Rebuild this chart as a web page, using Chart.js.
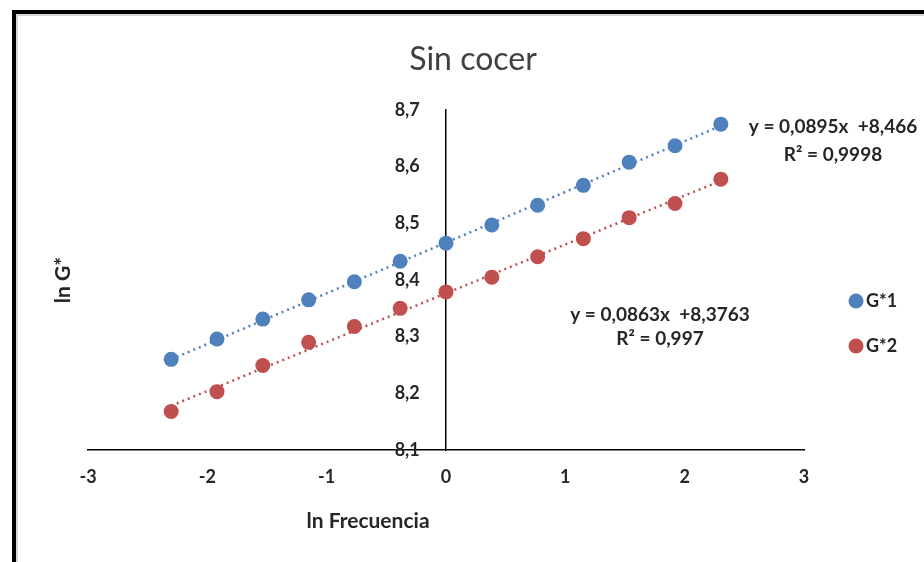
<!DOCTYPE html>
<html lang="es">
<head>
    <meta charset="UTF-8">
    <title>Sin cocer</title>
    <script src="https://cdn.jsdelivr.net/npm/chart.js@4"></script>
    <style>
        html, body { margin: 0; padding: 0; background: #fff; }
        #wrap { position: relative; width: 924px; height: 562px; overflow: hidden; }
        #frame {
            position: absolute; left: 12px; top: 10px; width: 1000px; height: 700px;
            border-top: 4px solid #000; border-left: 4px solid #000;
            box-shadow: inset 2px 2px 0 #d4d4d4; pointer-events: none;
        }
    </style>
</head>
<body>
    <div id="wrap">
        <canvas id="grafico" width="924" height="562"></canvas>
        <div id="frame"></div>
    </div>

    <script>
        // datos
        const lnFrecuencia = [-2.303, -1.919, -1.535, -1.151, -0.768, -0.384, 0, 0.384, 0.768, 1.151, 1.535, 1.919, 2.303];
        const lnG1 = [8.260, 8.296, 8.331, 8.365, 8.397, 8.433, 8.465, 8.497, 8.532, 8.567, 8.608, 8.637, 8.675];
        const lnG2 = [8.168, 8.203, 8.249, 8.290, 8.318, 8.350, 8.379, 8.405, 8.441, 8.473, 8.510, 8.535, 8.578];

        // extremos de las lineas de tendencia
        const tendenciaX = [-2.303, 2.303];
        const tendencia1 = [8.260, 8.672];
        const tendencia2 = [8.178, 8.575];

        const ticksX = [-3, -2, -1, 0, 1, 2, 3];
        const ticksY = [8.1, 8.2, 8.3, 8.4, 8.5, 8.6, 8.7];

        const series = ['G*1', 'G*2'];
        const colores = ['#4F81BD', '#C0504D'];
        const ecuaciones = [
            ['y = 0,0895x  +8,466', 'R\u00B2 = 0,9998'],
            ['y = 0,0863x  +8,3763', 'R\u00B2 = 0,997']
        ];

        const puntos = (xs, ys) => xs.map((x, i) => ({ x: x, y: ys[i] }));
        const fuente = 'Lato, "DejaVu Sans", sans-serif';

        const anotaciones = {
            id: 'anotaciones',
            afterDraw(chart) {
                const c = chart.ctx;
                c.save();
                c.textBaseline = 'middle';

                c.fillStyle = '#404040';
                c.textAlign = 'center';
                c.font = '32px ' + fuente;
                c.fillText('Sin cocer', 473, 60);

                c.fillStyle = '#262626';
                c.font = 'bold 21px ' + fuente;
                c.fillText('ln Frecuencia', 368, 521);

                c.save();
                c.translate(63, 280);
                c.rotate(-Math.PI / 2);
                c.fillText('ln G*', 0, 0);
                c.restore();

                c.font = 'bold 19px ' + fuente;
                c.fillText(ecuaciones[0][0], 833, 127);
                c.fillText(ecuaciones[0][1], 833, 155);
                c.fillText(ecuaciones[1][0], 660, 315);
                c.fillText(ecuaciones[1][1], 660, 339);

                // leyenda
                c.textAlign = 'left';
                c.font = 'bold 18px ' + fuente;
                [301, 346].forEach((y, i) => {
                    c.fillStyle = colores[i];
                    c.beginPath();
                    c.arc(856, y, 7.5, 0, Math.PI * 2);
                    c.fill();
                    c.fillStyle = '#262626';
                    c.fillText(series[i], 866, y);
                });
                c.restore();
            }
        };

        new Chart(document.getElementById('grafico'), {
            type: 'scatter',
            data: {
                datasets: [
                    {
                        label: series[0],
                        data: puntos(lnFrecuencia, lnG1),
                        backgroundColor: colores[0],
                        borderColor: colores[0],
                        pointRadius: 7.5,
                        pointBorderWidth: 0,
                        order: 1
                    },
                    {
                        label: series[1],
                        data: puntos(lnFrecuencia, lnG2),
                        backgroundColor: colores[1],
                        borderColor: colores[1],
                        pointRadius: 7.5,
                        pointBorderWidth: 0,
                        order: 1
                    },
                    {
                        label: 'tendencia G*1',
                        data: puntos(tendenciaX, tendencia1),
                        showLine: true,
                        borderColor: colores[0],
                        borderWidth: 2.5,
                        borderDash: [2, 4],
                        pointRadius: 0,
                        order: 2
                    },
                    {
                        label: 'tendencia G*2',
                        data: puntos(tendenciaX, tendencia2),
                        showLine: true,
                        borderColor: colores[1],
                        borderWidth: 2.5,
                        borderDash: [2, 4],
                        pointRadius: 0,
                        order: 2
                    }
                ]
            },
            options: {
                responsive: false,
                animation: false,
                layout: { padding: { left: 88, right: 120, top: 110, bottom: 112 } },
                plugins: {
                    legend: { display: false },
                    title: { display: false },
                    tooltip: { enabled: false }
                },
                scales: {
                    x: {
                        type: 'linear',
                        position: { y: 8.1 },
                        min: ticksX[0],
                        max: ticksX[ticksX.length - 1],
                        afterBuildTicks: s => { s.ticks = ticksX.map(v => ({ value: v })); },
                        grid: { display: false },
                        border: { display: true, color: '#000', width: 1.5 },
                        ticks: {
                            padding: 8,
                            color: '#262626',
                            font: { family: fuente, size: 18, weight: 'bold' },
                            callback: v => String(v)
                        }
                    },
                    y: {
                        type: 'linear',
                        position: { x: 0 },
                        min: ticksY[0],
                        max: ticksY[ticksY.length - 1],
                        afterBuildTicks: s => { s.ticks = ticksY.map(v => ({ value: v })); },
                        grid: { display: false },
                        border: { display: true, color: '#000', width: 1.5 },
                        ticks: {
                            color: '#262626',
                            font: { family: fuente, size: 18, weight: 'bold' },
                            // el eje centrado ignora padding, se separa con espacios
                            callback: v => v.toFixed(1).replace('.', ',') + '      '
                        }
                    }
                }
            },
            plugins: [anotaciones]
        });
    </script>
</body>
</html>
